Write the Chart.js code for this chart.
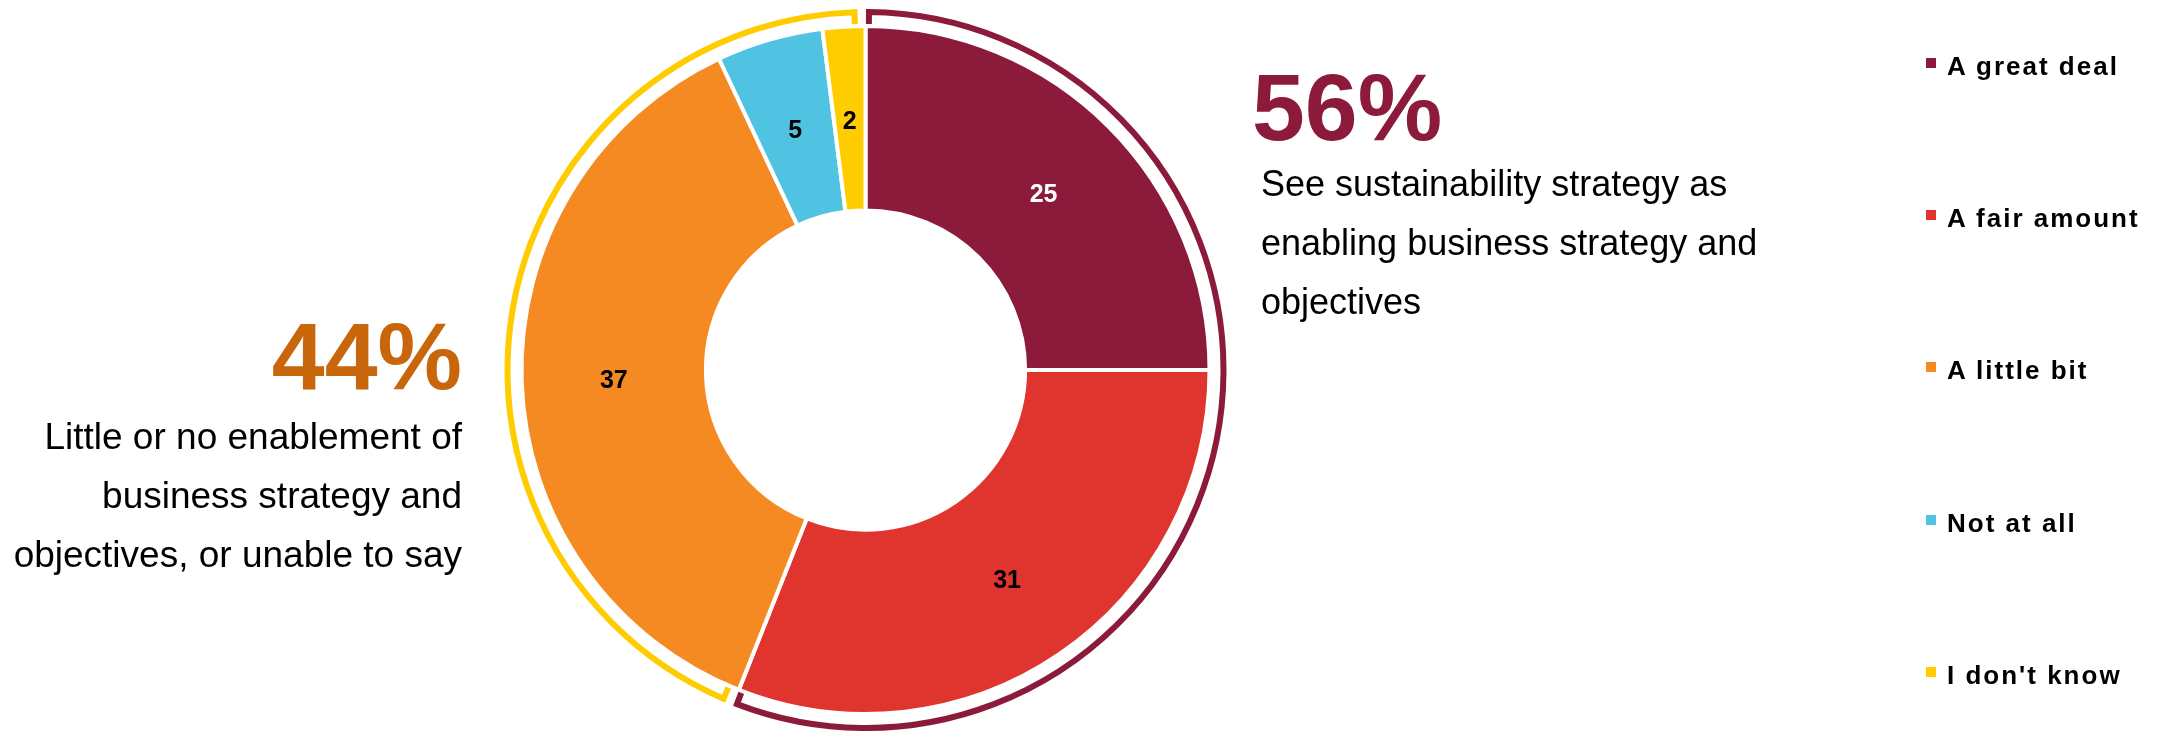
<!DOCTYPE html>
<html>
<head>
<meta charset="utf-8">
<script src="https://cdn.jsdelivr.net/npm/chart.js@4.4.1/dist/chart.umd.min.js"></script>
<style>
  html, body { margin: 0; padding: 0; background: #fff; overflow: hidden; }
  #wrap { position: relative; width: 2164px; height: 731px; }
  #donut { position: absolute; left: 0; top: 0; }
  .big { position: absolute; font: bold 95px "Liberation Sans", Arial, sans-serif; line-height: 95px; white-space: nowrap; }
  .desc { position: absolute; font-family: "Liberation Sans", Arial, sans-serif; line-height: 59px; color: #000; white-space: nowrap; }
  .right { text-align: right; }
  #legend { position: absolute; left: 1926px; top: 0; margin: 0; padding: 0; list-style: none; }
  #legend li { position: absolute; left: 0; height: 26px; line-height: 26px; white-space: nowrap;
               font: bold 26px "Liberation Sans", Arial, sans-serif; letter-spacing: 2px; color: #000; }
  #legend .sw { position: absolute; left: 0; top: 7px; width: 10px; height: 10px; }
  #legend .tx { position: absolute; left: 21px; top: 0; }
</style>
</head>
<body>
<div id="wrap">
  <canvas id="donut" width="2164" height="731"></canvas>
  <div id="pctA" class="big" style="left:1252px; top:60px; color:#8C1B3B;"></div>
  <div id="descA" class="desc" style="left:1261px; top:154px; font-size:36px;"></div>
  <div id="pctB" class="big right" style="right:1702px; top:309px; color:#C9650A;"></div>
  <div id="descB" class="desc right" style="right:1702px; top:407px; font-size:37px;"></div>
  <ul id="legend"></ul>
</div>
<script>
// Response categories and their shares (%)
const categories = ['A great deal', 'A fair amount', 'A little bit', 'Not at all', "I don't know"];
const shares = [25, 31, 37, 5, 2];
const sliceColors = ['#8C1B3B', '#E0342F', '#F58A23', '#4FC3E1', '#FFCC00'];
const valueLabelColors = ['#FFFFFF', '#000000', '#000000', '#000000', '#000000'];

// Two summary groups wrapped by an outer bracket
const groupFirst = [0, 2];          // first category index in each group
const groupLast = [1, 4];           // last category index in each group
const groupColors = ['#8C1B3B', '#FFCC00'];
const groupInset = [3.5, 11];       // px the bracket stops short of the group edges
const groupText = [
  ['See sustainability strategy as', 'enabling business strategy and', 'objectives'],
  ['Little or no enablement of', 'business strategy and', 'objectives, or unable to say']
];

function groupTotal(g) {
  let s = 0;
  for (let i = groupFirst[g]; i <= groupLast[g]; i++) s += shares[i];
  return s;
}

document.getElementById('pctA').textContent = groupTotal(0) + '%';
document.getElementById('pctB').textContent = groupTotal(1) + '%';
document.getElementById('descA').innerHTML = groupText[0].join('<br>');
document.getElementById('descB').innerHTML = groupText[1].join('<br>');

// Legend list, one row per category
const legend = document.getElementById('legend');
categories.forEach((c, i) => {
  const li = document.createElement('li');
  li.style.top = (50.5 + i * 152.4) + 'px';
  const sw = document.createElement('span');
  sw.className = 'sw';
  sw.style.background = sliceColors[i];
  const tx = document.createElement('span');
  tx.className = 'tx';
  tx.textContent = c;
  li.appendChild(sw);
  li.appendChild(tx);
  legend.appendChild(li);
});

// Value numbers centred in each slice
const sliceValues = {
  id: 'sliceValues',
  afterDatasetsDraw(chart) {
    const ctx = chart.ctx;
    const ds = chart.data.datasets[0];
    chart.getDatasetMeta(0).data.forEach((arc, i) => {
      const p = arc.tooltipPosition();
      ctx.save();
      ctx.font = 'bold 25px "Liberation Sans", Arial, sans-serif';
      ctx.fillStyle = valueLabelColors[i];
      ctx.textAlign = 'center';
      ctx.textBaseline = 'middle';
      ctx.fillText(String(ds.data[i]), p.x, p.y + 3);
      ctx.restore();
    });
  }
};

// Bracket arcs around each group of slices
const groupBrackets = {
  id: 'groupBrackets',
  afterDatasetsDraw(chart) {
    const ctx = chart.ctx;
    const arcs = chart.getDatasetMeta(0).data;
    groupFirst.forEach((f, g) => {
      const a = arcs[f], b = arcs[groupLast[g]];
      const x = a.x, y = a.y, r = a.outerRadius;
      const rArc = r + 14, rTick = r + 2;
      const d = groupInset[g] / rArc;
      const a0 = a.startAngle + d, a1 = b.endAngle - d;
      ctx.save();
      ctx.strokeStyle = groupColors[g];
      ctx.lineWidth = 6;
      ctx.lineJoin = 'miter';
      ctx.lineCap = 'butt';
      ctx.beginPath();
      ctx.moveTo(x + Math.cos(a0) * rTick, y + Math.sin(a0) * rTick);
      ctx.arc(x, y, rArc, a0, a1);
      ctx.lineTo(x + Math.cos(a1) * rTick, y + Math.sin(a1) * rTick);
      ctx.stroke();
      ctx.restore();
    });
  }
};

new Chart(document.getElementById('donut'), {
  type: 'doughnut',
  data: {
    labels: categories,
    datasets: [{
      data: shares,
      backgroundColor: sliceColors,
      borderColor: '#FFFFFF',
      borderWidth: 4
    }]
  },
  options: {
    responsive: false,
    animation: false,
    radius: 344,
    cutout: '46.4%',
    layout: { padding: { left: 0, right: 433, top: 9, bottom: 0 } },
    plugins: {
      legend: { display: false },
      tooltip: { enabled: false }
    }
  },
  plugins: [sliceValues, groupBrackets]
});
</script>
</body>
</html>
